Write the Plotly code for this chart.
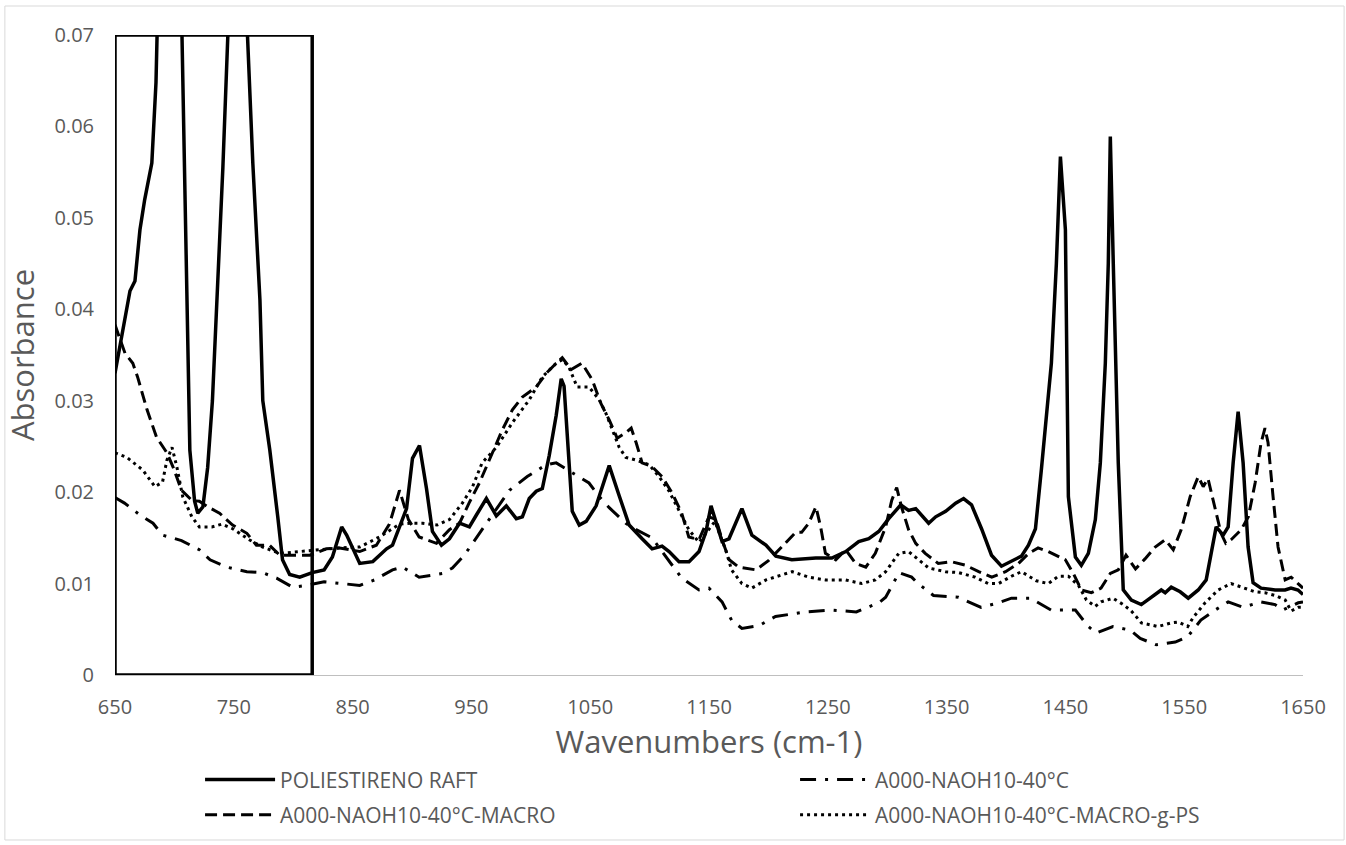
import plotly.graph_objects as go

# ---------------- data ----------------
ps_wn = [650, 662.6, 666.8, 671, 675, 681, 684.5, 690, 696, 702, 705.5, 710.5, 713, 717, 719.7, 724, 728, 732, 736,
         740.8, 745, 749, 755, 760, 761.5, 766, 772, 774.4, 780.3, 787, 791, 797, 805.5, 816, 826, 833, 840.8, 845,
         856, 867, 878.6, 883.6, 895.4, 900.4, 906.3, 912.2, 917.2, 924.8, 931.5, 940, 948.3, 954.2, 962.6, 971,
         979.4, 987.8, 992.9, 998.7, 1004.6, 1009.7, 1015.5, 1021.4, 1025.6, 1028, 1034.9, 1040.8, 1046.6, 1055,
         1066, 1074.4, 1082.8, 1093.7, 1102.1, 1110.5, 1116.4, 1124.8, 1133.2, 1141.6, 1147.5, 1151.7, 1155.9,
         1161, 1166.8, 1177.7, 1186.1, 1197.9, 1206.3, 1219.7, 1239.9, 1253.4, 1265.1, 1276, 1284.5, 1292.9,
         1301.3, 1311.4, 1318, 1324, 1334.9, 1340.8, 1349.2, 1357.6, 1364.3, 1371, 1379.4, 1387.8, 1396.2,
         1404.6, 1413, 1418.9, 1424.8, 1429.8, 1438.2, 1442.4, 1445.8, 1450, 1452.5, 1458.4, 1463.4, 1469.3,
         1475.2, 1479.4, 1483.6, 1486.1, 1487.8, 1490.3, 1494.5, 1498.7, 1505.5, 1513.9, 1522.3, 1530.7, 1534,
         1539.1, 1546.6, 1553.4, 1561.8, 1568.5, 1572.7, 1576.9, 1582.8, 1587, 1591.2, 1595.4, 1599.6, 1603.8,
         1608, 1614.7, 1626.5, 1634.9, 1639.9, 1645.8, 1650]
ps_abs = [0.0330, 0.0420, 0.0431, 0.0487, 0.0520, 0.0560, 0.0648, 0.1000, 0.1300, 0.1000, 0.0760, 0.0410, 0.0246,
          0.0190, 0.0177, 0.0184, 0.0227, 0.0300, 0.0410, 0.0555, 0.0700, 0.1000, 0.1250, 0.0900, 0.0700, 0.0560,
          0.0410, 0.0300, 0.0246, 0.0173, 0.0126, 0.0110, 0.0107, 0.0112, 0.0115, 0.0129, 0.0162, 0.0153, 0.0122,
          0.0124, 0.0138, 0.0142, 0.0182, 0.0237, 0.0251, 0.0204, 0.0157, 0.0142, 0.0149, 0.0166, 0.0162, 0.0175,
          0.0193, 0.0174, 0.0185, 0.0171, 0.0173, 0.0193, 0.0201, 0.0204, 0.0240, 0.0284, 0.0324, 0.0316, 0.0179,
          0.0164, 0.0168, 0.0185, 0.0229, 0.0196, 0.0164, 0.0149, 0.0138, 0.0141, 0.0135, 0.0124, 0.0124, 0.0135,
          0.0157, 0.0185, 0.0168, 0.0146, 0.0149, 0.0182, 0.0153, 0.0142, 0.0130, 0.0126, 0.0128, 0.0128, 0.0135,
          0.0146, 0.0149, 0.0157, 0.0171, 0.0186, 0.0180, 0.0182, 0.0166, 0.0173, 0.0179, 0.0188, 0.0193, 0.0186,
          0.0160, 0.0131, 0.0119, 0.0124, 0.0130, 0.0142, 0.0160, 0.0225, 0.0341, 0.0450, 0.0567, 0.0487, 0.0195,
          0.0129, 0.0120, 0.0133, 0.0170, 0.0232, 0.0341, 0.0450, 0.0589, 0.0450, 0.0232, 0.0093, 0.0082, 0.0077,
          0.0085, 0.0093, 0.0090, 0.0096, 0.0091, 0.0084, 0.0093, 0.0104, 0.0133, 0.0162, 0.0153, 0.0162, 0.0232,
          0.0288, 0.0232, 0.0140, 0.0101, 0.0095, 0.0093, 0.0093, 0.0095, 0.0093, 0.0088]

naoh_wn = [650, 658, 671, 682, 690, 706, 721, 730, 744, 761, 774, 786, 799.6, 811, 826, 841.6, 856, 868.5, 883.6,
           892, 906, 925.6, 934, 944, 956.7, 970, 982, 997, 1013, 1021.4, 1035, 1049, 1057.6, 1066, 1080, 1088.7,
           1102, 1114, 1127, 1141.6, 1150, 1161, 1169, 1177.7, 1192, 1206, 1231.5, 1253.4, 1274, 1293, 1298.7,
           1310, 1320.6, 1326, 1339, 1360, 1379, 1393.7, 1404.6, 1420.6, 1438, 1458.4, 1469.3, 1476, 1490, 1504.6,
           1513, 1526.5, 1542.5, 1553, 1564, 1576, 1587, 1599.6, 1614.7, 1626.5, 1633, 1646, 1650]
naoh_abs = [0.0194, 0.0188, 0.0175, 0.0166, 0.0153, 0.0147, 0.0137, 0.0126, 0.0118, 0.0113, 0.0112, 0.0106, 0.0096,
            0.0098, 0.0102, 0.0100, 0.0098, 0.0104, 0.0115, 0.0118, 0.0107, 0.0111, 0.0117, 0.0131, 0.0155, 0.0180,
            0.0202, 0.0217, 0.0230, 0.0232, 0.0221, 0.0210, 0.0195, 0.0183, 0.0166, 0.0159, 0.0150, 0.0129, 0.0106,
            0.0093, 0.0095, 0.0080, 0.0060, 0.0051, 0.0054, 0.0064, 0.0069, 0.0071, 0.0069, 0.0079, 0.0085, 0.0112,
            0.0107, 0.0100, 0.0087, 0.0085, 0.0074, 0.0079, 0.0084, 0.0084, 0.0071, 0.0071, 0.0053, 0.0046, 0.0053,
            0.0049, 0.0040, 0.0033, 0.0036, 0.0042, 0.0060, 0.0071, 0.0080, 0.0074, 0.0080, 0.0077, 0.0071, 0.0079,
            0.0080]

macro_wn = [650, 658.4, 665, 669, 677, 685, 693.7, 698.7, 706, 714.7, 721, 728, 738, 749, 761, 769, 780, 788.7,
            799.6, 814, 828, 839, 856, 870, 881, 889.5, 897, 906, 920.6, 931.5, 940, 948, 956.7, 965, 976, 984.5,
            992.9, 1004.6, 1013, 1021.4, 1026.5, 1034, 1043, 1051.7, 1059, 1066, 1072.7, 1080, 1084.5, 1088.7,
            1093.7, 1102, 1110.5, 1119, 1127, 1133, 1141.6, 1150, 1156, 1161, 1167, 1175, 1189.5, 1200, 1211, 1223,
            1228, 1234, 1240, 1244, 1248, 1256.7, 1265, 1273.5, 1282, 1290, 1298.7, 1303.8, 1308, 1312, 1318, 1324,
            1332, 1343, 1354, 1366, 1377, 1388, 1399.6, 1410.5, 1419, 1427, 1435.7, 1442.4, 1450, 1456.7, 1463.4,
            1471.8, 1480, 1487.8, 1494.5, 1501, 1509, 1517, 1525.6, 1534, 1540.8, 1547.5, 1555, 1561.8, 1566, 1570,
            1576, 1581, 1585, 1589.5, 1598, 1604, 1609.7, 1614.7, 1618, 1620.6, 1624.8, 1629, 1635, 1640, 1645.8,
            1650]
macro_abs = [0.0383, 0.0352, 0.0341, 0.0326, 0.0290, 0.0260, 0.0243, 0.0228, 0.0202, 0.0191, 0.0190, 0.0184, 0.0177,
             0.0164, 0.0155, 0.0142, 0.0142, 0.0131, 0.0131, 0.0131, 0.0138, 0.0139, 0.0135, 0.0142, 0.0165, 0.0202,
             0.0170, 0.0151, 0.0144, 0.0159, 0.0166, 0.0188, 0.0210, 0.0235, 0.0268, 0.0290, 0.0304, 0.0315, 0.0330,
             0.0341, 0.0347, 0.0334, 0.0341, 0.0323, 0.0297, 0.0279, 0.0259, 0.0265, 0.0270, 0.0254, 0.0232, 0.0228,
             0.0217, 0.0199, 0.0177, 0.0151, 0.0148, 0.0173, 0.0170, 0.0148, 0.0126, 0.0118, 0.0115, 0.0125, 0.0140,
             0.0156, 0.0156, 0.0166, 0.0184, 0.0162, 0.0133, 0.0126, 0.0137, 0.0122, 0.0118, 0.0133, 0.0162, 0.0191,
             0.0205, 0.0184, 0.0159, 0.0144, 0.0133, 0.0122, 0.0124, 0.0120, 0.0113, 0.0107, 0.0113, 0.0122, 0.0133,
             0.0139, 0.0135, 0.0131, 0.0126, 0.0111, 0.0093, 0.0090, 0.0095, 0.0111, 0.0115, 0.0131, 0.0116, 0.0127,
             0.0140, 0.0148, 0.0137, 0.0159, 0.0195, 0.0217, 0.0206, 0.0215, 0.0184, 0.0155, 0.0144, 0.0148, 0.0159,
             0.0173, 0.0210, 0.0254, 0.0270, 0.0254, 0.0195, 0.0140, 0.0104, 0.0107, 0.0100, 0.0095]

gps_wn = [650, 660, 673.5, 683.6, 690, 693.7, 698, 702, 707, 714.7, 721, 731.5, 740, 749, 763, 774, 788.7, 805.5,
          822, 839, 856, 872.7, 889.5, 898, 909, 921, 931.5, 942.4, 951, 959, 971, 984.5, 998.7, 1009.7, 1021.4,
          1026.5, 1032, 1039, 1049, 1057.6, 1063, 1068.5, 1074.4, 1080, 1088.7, 1099.6, 1108, 1116, 1124.8, 1133,
          1141.6, 1150, 1155, 1164, 1169, 1177.7, 1186, 1198, 1206, 1220, 1234, 1248, 1265, 1278.5, 1290, 1298.7,
          1309.7, 1318, 1326.5, 1335, 1349, 1360, 1374, 1385, 1393.7, 1404.6, 1413, 1425.6, 1435.7, 1444, 1452.5,
          1461, 1467.7, 1475, 1480, 1490, 1498.7, 1505.5, 1514, 1528, 1539, 1545, 1553, 1557.6, 1567.6, 1578.6,
          1589.5, 1598, 1609.7, 1618, 1626.5, 1635, 1640, 1646, 1650]
gps_abs = [0.0243, 0.0238, 0.0224, 0.0206, 0.0211, 0.0235, 0.0249, 0.0228, 0.0195, 0.0173, 0.0162, 0.0162, 0.0165,
           0.0160, 0.0148, 0.0140, 0.0133, 0.0135, 0.0137, 0.0139, 0.0140, 0.0151, 0.0165, 0.0166, 0.0166, 0.0164,
           0.0170, 0.0188, 0.0206, 0.0232, 0.0249, 0.0276, 0.0301, 0.0326, 0.0341, 0.0345, 0.0337, 0.0315, 0.0315,
           0.0301, 0.0287, 0.0268, 0.0249, 0.0238, 0.0235, 0.0230, 0.0217, 0.0202, 0.0180, 0.0159, 0.0145, 0.0159,
           0.0168, 0.0137, 0.0115, 0.0100, 0.0095, 0.0104, 0.0107, 0.0113, 0.0107, 0.0104, 0.0104, 0.0100, 0.0104,
           0.0113, 0.0133, 0.0135, 0.0126, 0.0117, 0.0113, 0.0112, 0.0107, 0.0100, 0.0100, 0.0108, 0.0113, 0.0103,
           0.0100, 0.0108, 0.0108, 0.0098, 0.0082, 0.0075, 0.0080, 0.0084, 0.0077, 0.0070, 0.0057, 0.0053, 0.0057,
           0.0058, 0.0053, 0.0063, 0.0079, 0.0093, 0.0100, 0.0096, 0.0091, 0.0090, 0.0087, 0.0082, 0.0070, 0.0074,
           0.0074]

series_names = ["POLIESTIRENO RAFT", "A000-NAOH10-40°C", "A000-NAOH10-40°C-MACRO", "A000-NAOH10-40°C-MACRO-g-PS"]
x_ticks = [650, 750, 850, 950, 1050, 1150, 1250, 1350, 1450, 1550, 1650]
y_ticks = [0, 0.01, 0.02, 0.03, 0.04, 0.05, 0.06, 0.07]
box_range = [650, 816]  # highlighted region (cm-1)

# ---------------- figure ----------------
GRAY = "#595959"
FONT = "Open Sans"

fig = go.Figure()
fig.add_trace(go.Scatter(x=ps_wn, y=ps_abs, name=series_names[0], mode="lines", legend="legend",
                         line=dict(color="black", width=3.5)))
fig.add_trace(go.Scatter(x=naoh_wn, y=naoh_abs, name=series_names[1], mode="lines", legend="legend",
                         line=dict(color="black", width=3, dash="16px,9px,3px,9px")))
fig.add_trace(go.Scatter(x=macro_wn, y=macro_abs, name=series_names[2], mode="lines", legend="legend2",
                         line=dict(color="black", width=3, dash="12px,6px")))
fig.add_trace(go.Scatter(x=gps_wn, y=gps_abs, name=series_names[3], mode="lines", legend="legend2",
                         line=dict(color="black", width=3, dash="3px,4px")))

# highlighted rectangle
fig.add_shape(type="rect", xref="x", yref="y", x0=box_range[0], x1=box_range[1], y0=0, y1=0.07,
              line=dict(color="black", width=3.5), fillcolor="rgba(0,0,0,0)", layer="above")
# chart border
fig.add_shape(type="rect", xref="paper", yref="paper", x0=-0.0927, x1=1.0346, y0=-0.2578, y1=1.0453,
              line=dict(color="#d9d9d9", width=1), fillcolor="rgba(0,0,0,0)", layer="below")

legend_common = dict(orientation="h", xanchor="left", yanchor="middle",
                     itemwidth=70, entrywidth=510, entrywidthmode="pixels",
                     font=dict(family=FONT, size=21, color=GRAY), traceorder="normal",
                     bgcolor="rgba(0,0,0,0)")

fig.update_layout(
    width=1346, height=845,
    margin=dict(l=115, r=43, t=35, b=170, autoexpand=False),
    paper_bgcolor="white", plot_bgcolor="white",
    font=dict(family=FONT, color=GRAY, size=20),
    showlegend=True,
    legend=dict(x=0.0716, y=-0.164, **legend_common),
    legend2=dict(x=0.0716, y=-0.219, **legend_common),
)
fig.update_xaxes(range=[650, 1650], tickvals=x_ticks, ticktext=[str(v) for v in x_ticks],
                 showgrid=False, zeroline=False, showline=True, linecolor="#bfbfbf", linewidth=1,
                 ticks="", ticklabelstandoff=14,
                 tickfont=dict(family=FONT, size=20, color=GRAY),
                 title=dict(text="Wavenumbers (cm-1)", font=dict(family=FONT, size=31, color=GRAY), standoff=12))
fig.update_yaxes(range=[0, 0.07], tickvals=y_ticks, ticktext=["0" if v == 0 else f"{v:.2f}" for v in y_ticks],
                 showgrid=False, zeroline=False, showline=False,
                 ticks="", ticklabelstandoff=20,
                 tickfont=dict(family=FONT, size=20, color=GRAY),
                 title=dict(text="Absorbance", font=dict(family=FONT, size=31, color=GRAY), standoff=10))

fig.write_html("out.html")
